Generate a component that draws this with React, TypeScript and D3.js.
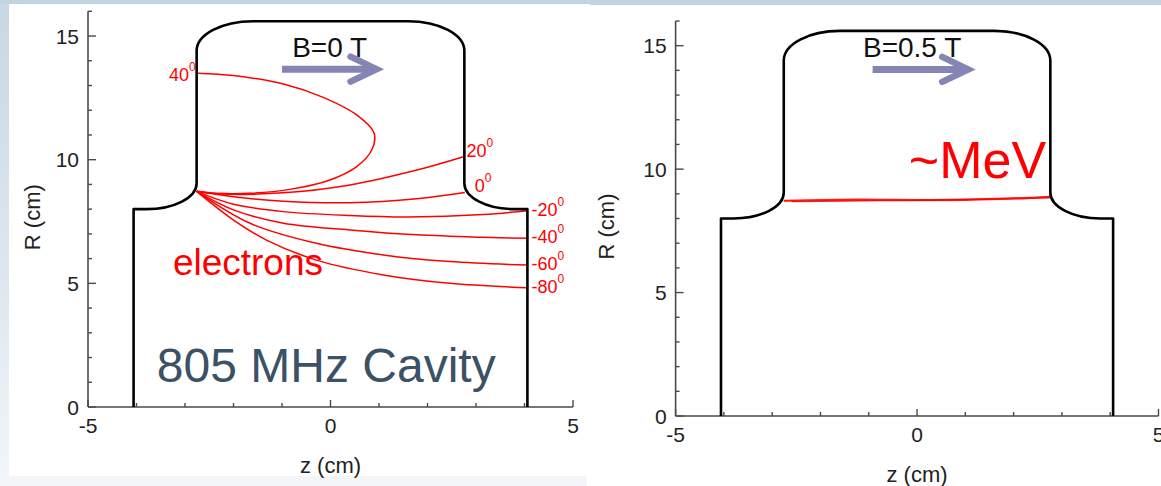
import React from 'react'
import * as d3 from 'd3'

// ---- data (z, R in cm) ----
const zMajorTicks = [-5, 0, 5]
const zMinorTicks = [-4, -3, -2, -1, 1, 2, 3, 4]
const rMajorTicks = [0, 5, 10, 15]
const rMinorTicks = [1, 2, 3, 4, 6, 7, 8, 9, 11, 12, 13, 14, 16]

// cavity wall outline; entries listed in wallCorners are control corners of rounded bends
const wallPoints: [number, number][] = [
  [-4.06, 0], [-4.06, 8], [-3.8, 8], [-2.76, 8], [-2.76, 9.05], [-2.76, 14.4],
  [-2.76, 15.6], [-1.6, 15.6], [1.6, 15.6], [2.76, 15.6], [2.76, 14.4],
  [2.76, 9.05], [2.76, 8], [3.8, 8], [4.06, 8], [4.06, 0],
]
const wallCorners = [3, 6, 9, 12]

// B = 0 T electron trajectories, launched from the iris nose
const trackAngles = ['40', '20', '0', '-20', '-40', '-60', '-80']
const tracks0T: [number, number][][] = [
  [[-2.76, 8.72], [-2.35, 8.64], [-1.66, 8.64], [-0.84, 8.8], [-0.01, 9.18], [0.54, 9.72], [0.85, 10.39],
    [0.9, 11.07], [0.54, 11.81], [-0.15, 12.52], [-0.97, 13.06], [-2.0, 13.4], [-2.74, 13.5]],
  [[-2.76, 8.72], [-2.35, 8.62], [-0.97, 8.66], [0.4, 8.98], [1.78, 9.58], [2.74, 10.12]],
  [[-2.76, 8.72], [-2.0, 8.5], [-0.97, 8.32], [0.4, 8.26], [1.78, 8.42], [2.77, 8.67]],
  [[-2.76, 8.72], [-2.0, 8.2], [-0.97, 7.9], [0.4, 7.74], [1.6, 7.68], [3.15, 7.78], [4.06, 7.94]],
  [[-2.76, 8.72], [-2.0, 7.97], [-0.97, 7.43], [0.4, 7.16], [1.78, 6.96], [3.15, 6.86], [4.06, 6.82]],
  [[-2.76, 8.72], [-1.66, 7.43], [-0.29, 6.62], [1.09, 6.15], [2.46, 5.88], [4.06, 5.74]],
  [[-2.76, 8.72], [-2.0, 7.56], [-1.32, 6.75], [-0.29, 5.94], [1.09, 5.34], [2.46, 5.0], [4.06, 4.82]],
]

// B = 0.5 T: electrons stay on a thin band across the cell
const tracks05T: [number, number][][] = [
  [[-2.76, 8.7], [-1.5, 8.74], [0, 8.74], [1.5, 8.78], [2.76, 8.86]],
  [[-2.76, 8.73], [-1.2, 8.78], [0.3, 8.76], [1.8, 8.82], [2.76, 8.9]],
  [[-2.6, 8.68], [-0.8, 8.72], [1.0, 8.74], [2.2, 8.8], [2.76, 8.84]],
]

const FONT = '"Liberation Sans", Arial, Helvetica, sans-serif'
const RED = '#ff0000'
const ARROW = '#8585b3'

function wallPath(x: (v: number) => number, y: (v: number) => number) {
  const p = d3.path()
  const k = 0.5523
  const P = wallPoints.map(([z, r]) => [x(z), y(r)])
  p.moveTo(P[0][0], P[0][1])
  for (let i = 1; i < P.length; i++) {
    if (wallCorners.includes(i)) {
      const a = P[i - 1], c = P[i], b = P[i + 1]
      p.bezierCurveTo(
        a[0] + k * (c[0] - a[0]), a[1] + k * (c[1] - a[1]),
        b[0] + k * (c[0] - b[0]), b[1] + k * (c[1] - b[1]),
        b[0], b[1])
      i++
    } else {
      p.lineTo(P[i][0], P[i][1])
    }
  }
  return p.toString()
}

type PanelCfg = {
  left: number; right: number; bottom: number; top: number
  titleX: number
  field: string; fieldAt: [number, number]
  arrow: [number, number, number]
}

function Arrow({ x, y, a }: { x: any; y: any; a: [number, number, number] }) {
  const x0 = x(a[0]), x1 = x(a[1]), yy = y(a[2])
  return (
    <g stroke={ARROW} fill="none">
      <line x1={x0} x2={x1 - 6} y1={yy} y2={yy} strokeWidth={7} />
      <path d={`M${x1 - 26},${yy - 12.5} L${x1},${yy} L${x1 - 26},${yy + 12.5}`}
        strokeWidth={6.5} strokeLinecap="round" strokeLinejoin="miter" />
    </g>
  )
}

function Panel({ cfg, children }: { cfg: PanelCfg; children: (x: any, y: any) => React.ReactNode }) {
  const x = d3.scaleLinear().domain([-5, 5]).range([cfg.left, cfg.right])
  const y = d3.scaleLinear().domain([0, 16]).range([cfg.bottom, cfg.top])
  const axisColor = '#4a4a4a'
  return (
    <g fontFamily={FONT}>
      {/* axes */}
      <line x1={x(-5)} x2={x(-5)} y1={y(0)} y2={y(16)} stroke={axisColor} strokeWidth={1.6} />
      <line x1={x(-5)} x2={x(5)} y1={y(0)} y2={y(0)} stroke={axisColor} strokeWidth={1.6} />
      {rMajorTicks.map(t => (
        <g key={'rM' + t}>
          <line x1={x(-5)} x2={x(-5) + 8} y1={y(t)} y2={y(t)} stroke={axisColor} strokeWidth={1.4} />
          <text x={x(-5) - 9} y={y(t)} dy="0.36em" textAnchor="end" fontSize={21} fill="#222">{t}</text>
        </g>
      ))}
      {rMinorTicks.map(t => (
        <line key={'rm' + t} x1={x(-5)} x2={x(-5) + 4} y1={y(t)} y2={y(t)} stroke={axisColor} strokeWidth={1.4} />
      ))}
      {zMajorTicks.map(t => (
        <g key={'zM' + t}>
          <line x1={x(t)} x2={x(t)} y1={y(0)} y2={y(0) - 7} stroke={axisColor} strokeWidth={1.4} />
          <text x={x(t)} y={y(0) + 26} textAnchor="middle" fontSize={21} fill="#222">{t}</text>
        </g>
      ))}
      {zMinorTicks.map(t => (
        <line key={'zm' + t} x1={x(t)} x2={x(t)} y1={y(0)} y2={y(0) - 4} stroke={axisColor} strokeWidth={1.4} />
      ))}
      <text x={x(0)} y={y(0) + 66} textAnchor="middle" fontSize={22} fill="#222">z (cm)</text>
      <text transform={`translate(${cfg.titleX},${(y(0) + y(16)) / 2 + 8}) rotate(-90)`} textAnchor="middle"
        dominantBaseline="central" fontSize={22} fill="#222">R (cm)</text>

      {children(x, y)}

      {/* cavity wall */}
      <path d={wallPath(x, y)} fill="none" stroke="#000" strokeWidth={2.6} strokeLinejoin="round" />

      <text x={x(cfg.fieldAt[0])} y={y(cfg.fieldAt[1])} fontSize={28} fill="#111">{cfg.field}</text>
      <Arrow x={x} y={y} a={cfg.arrow} />
    </g>
  )
}

const leftCfg: PanelCfg = {
  left: 88, right: 573, bottom: 407, top: 11.3, titleX: 32,
  field: 'B=0 T', fieldAt: [-0.79, 14.15], arrow: [-1.0, 0.95, 13.66],
}
const rightCfg: PanelCfg = {
  left: 675.6, right: 1158.5, bottom: 416, top: 21, titleX: 606,
  field: 'B=0.5 T', fieldAt: [-1.12, 14.54], arrow: [-0.92, 1.06, 14.04],
}

function Deg({ x, y, text, anchor }: { x: number; y: number; text: string; anchor: string }) {
  return (
    <text x={x} y={y} textAnchor={anchor} fontSize={18} fill={RED} fontFamily={FONT}>
      {text}<tspan dy={-10} fontSize={12}>0</tspan>
    </text>
  )
}

export default function App() {
  const curve = d3.curveCatmullRom.alpha(0.5)
  return (
    <svg width={1161} height={486} style={{ position: 'absolute', left: 0, top: 0 }}>
      <defs>
        <linearGradient id="edge" x1="0" y1="0" x2="0" y2="1">
          <stop offset="0" stopColor="#c8d7e3" />
          <stop offset="0.6" stopColor="#dfe8ef" />
          <stop offset="1" stopColor="#f3f6f9" />
        </linearGradient>
      </defs>
      <rect width={1161} height={486} fill="#fff" />
      <rect x={0} y={0} width={9} height={486} fill="url(#edge)" />
      <rect x={0} y={0} width={1161} height={4} fill="#c3d4e1" />
      <rect x={590} y={0} width={571} height={5} fill="#c3d4e1" />
      <rect x={9} y={476} width={578} height={10} fill="#f3f5f7" />

      <Panel cfg={leftCfg}>
        {(x, y) => {
          const line = d3.line<[number, number]>().x(d => x(d[0])).y(d => y(d[1])).curve(curve)
          return (
            <g>
              {tracks0T.map((t, i) => (
                <path key={i} d={line(t) || ''} fill="none" stroke={RED} strokeWidth={1.5} />
              ))}
              {tracks0T.map((t, i) => {
                const e = t[t.length - 1]
                const ang = trackAngles[i]
                if (ang === '40') return <Deg key={ang} x={x(e[0]) - 2} y={y(e[1]) + 8} text={ang} anchor="end" />
                const dx = ang === '0' ? 10 : ang === '20' ? 3 : 4
                const dy = ang === '0' ? -1 : ang === '20' ? 0 : 5
                return <Deg key={ang} x={x(e[0]) + dx} y={y(e[1]) + dy} text={ang} anchor="start" />
              })}
              <text x={x(-3.25)} y={y(5.34)} fontSize={37} fill={RED} fontFamily={FONT}>electrons</text>
              <text x={x(-3.58)} y={y(1.01)} fontSize={48} fill="#3b5166" fontFamily={FONT}>805 MHz Cavity</text>
            </g>
          )
        }}
      </Panel>

      <Panel cfg={rightCfg}>
        {(x, y) => {
          const line = d3.line<[number, number]>().x(d => x(d[0])).y(d => y(d[1])).curve(curve)
          return (
            <g>
              {tracks05T.map((t, i) => (
                <path key={i} d={line(t) || ''} fill="none" stroke={RED} strokeWidth={1.3} opacity={0.85} />
              ))}
              <text x={x(-0.17)} y={y(9.64)} fontSize={52} fill={RED} fontFamily={FONT}>~MeV</text>
            </g>
          )
        }}
      </Panel>
    </svg>
  )
}
